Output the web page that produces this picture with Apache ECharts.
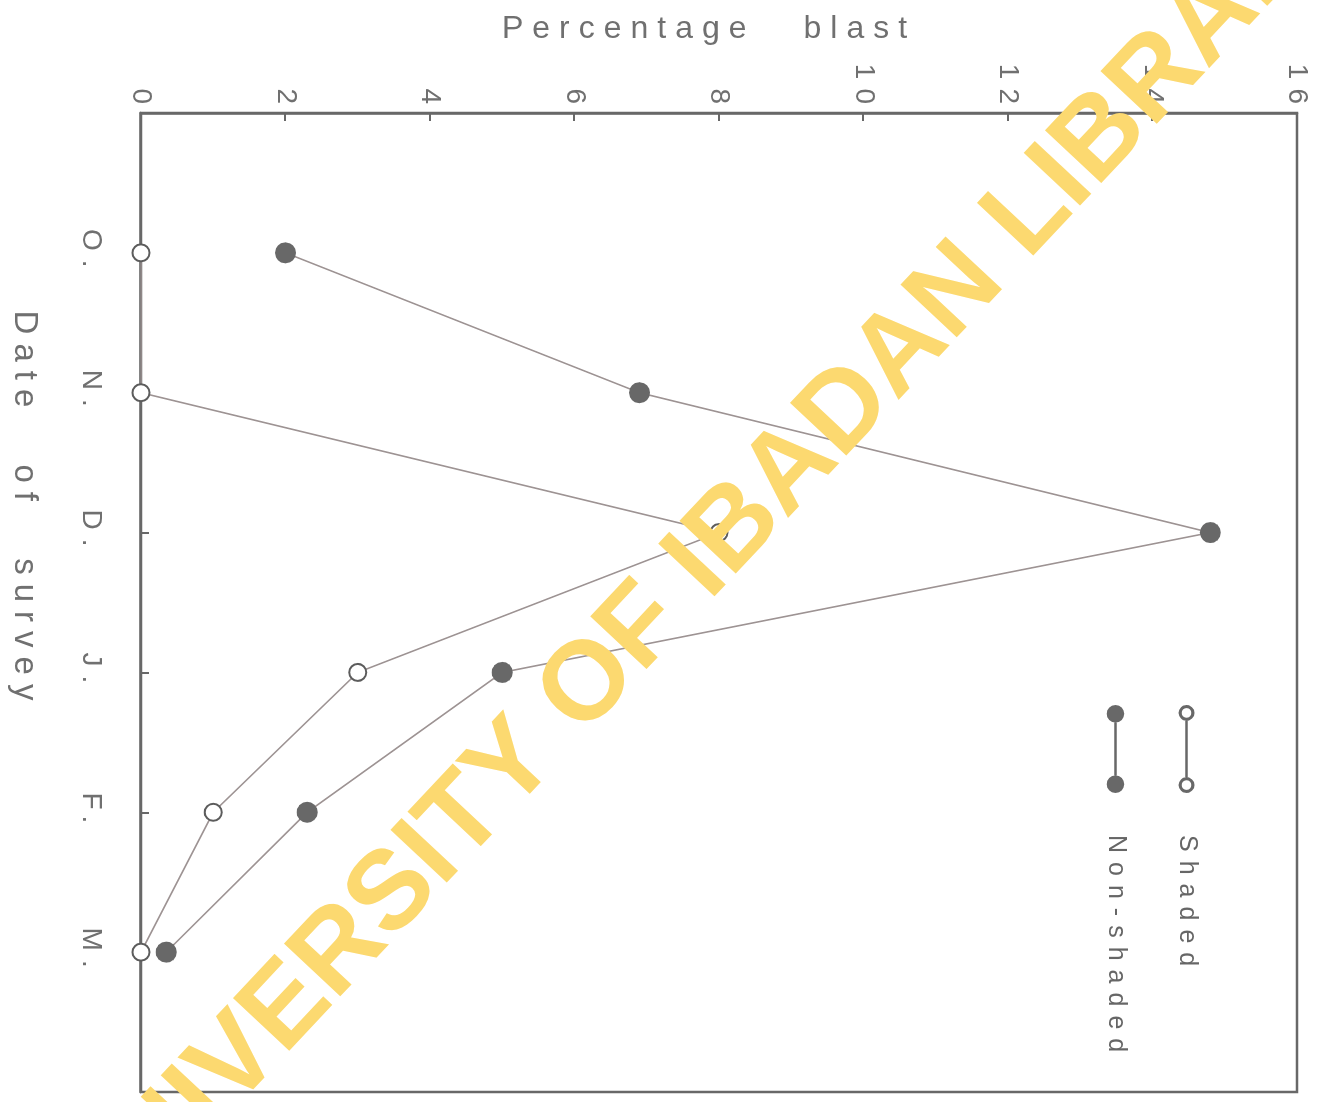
<!DOCTYPE html>
<html>
<head>
<meta charset="utf-8">
<title>Percentage blast by date of survey</title>
<script src="https://cdn.jsdelivr.net/npm/echarts@6/dist/echarts.min.js"></script>
<style>
  html, body { margin: 0; padding: 0; overflow: hidden; background: #ffffff; }
  /* The figure is laid out upright and turned a quarter turn clockwise on the page. */
  #main {
    position: absolute; left: 0; top: 0;
    width: 1102px; height: 1322px;
    transform-origin: 0 0;
    transform: translate(1322px, 0) rotate(90deg);
  }
</style>
</head>
<body>
<div id="main"></div>
<script>
// Survey months (October to March)
const categories = ['O.', 'N.', 'D.', 'J.', 'F.', 'M.'];
// Percentage blast per survey date
const shaded = [0, 0, 8.0, 3.0, 1.0, 0];
const nonShaded = [2.0, 6.9, 14.8, 5.0, 2.3, 0.35];
// Percentage axis range and step
const percentMin = 0;
const percentMax = 16;
const percentStep = 2;

const INK = '#686868';
const TEXT = '#707070';
const LINE = '#9d9393';

// Legend keys: "o—o" and "●—●"
const OPEN_KEY = 'path://M0,10A9,9 0 1,0 18,10A9,9 0 1,0 0,10Z' +
  'M3.5,10A5.5,5.5 0 1,1 14.5,10A5.5,5.5 0 1,1 3.5,10Z' +
  'M18,8.5L82,8.5L82,11.5L18,11.5Z' +
  'M82,10A9,9 0 1,0 100,10A9,9 0 1,0 82,10Z' +
  'M85.5,10A5.5,5.5 0 1,1 96.5,10A5.5,5.5 0 1,1 85.5,10Z';
const FILLED_KEY = 'path://M0,10A10,10 0 1,0 20,10A10,10 0 1,0 0,10Z' +
  'M20,8.5L80,8.5L80,11.5L20,11.5Z' +
  'M80,10A10,10 0 1,0 100,10A10,10 0 1,0 80,10Z';

const toPoints = values => categories.map((c, i) => [i + 1, values[i]]);

// Widely spaced lettering for the figure's own text; the large stamp keeps normal spacing
function spaced(draw) {
  return function () {
    const m = /(\d+(?:\.\d+)?)px/.exec(this.font);
    const large = m && +m[1] > 60;
    if ('letterSpacing' in this) { this.letterSpacing = large ? '0px' : '9px'; }
    if ('wordSpacing' in this) { this.wordSpacing = large ? '0px' : '30px'; }
    return draw.apply(this, arguments);
  };
}
CanvasRenderingContext2D.prototype.fillText = spaced(CanvasRenderingContext2D.prototype.fillText);
CanvasRenderingContext2D.prototype.strokeText = spaced(CanvasRenderingContext2D.prototype.strokeText);

const option = {
  backgroundColor: '#ffffff',
  animation: false,
  textStyle: { fontFamily: '"Liberation Sans", Arial, sans-serif', color: TEXT },
  grid: {
    left: 113, right: 10, top: 25, bottom: 141,
    show: true, borderColor: INK, borderWidth: 2.5, backgroundColor: 'transparent'
  },
  xAxis: {
    type: 'value',
    min: 0, max: categories.length + 1, interval: 1,
    name: 'Date of survey',
    nameLocation: 'middle',
    nameGap: 100,
    nameTextStyle: { fontSize: 33, color: TEXT, padding: [0, 185, 0, 0] },
    axisLine: { show: true, lineStyle: { color: INK, width: 2.5 } },
    axisTick: { show: true, inside: true, length: 8, lineStyle: { color: INK, width: 2 } },
    axisLabel: {
      margin: 36, fontSize: 28, color: TEXT,
      formatter: v => categories[v - 1] || ''
    },
    splitLine: { show: false }
  },
  yAxis: {
    type: 'value',
    min: percentMin, max: percentMax, interval: percentStep,
    name: 'Percentage blast',
    nameLocation: 'middle',
    nameGap: 68,
    nameTextStyle: { fontSize: 32, color: TEXT, padding: [0, 20, 0, 0] },
    axisLine: { show: true, lineStyle: { color: INK, width: 2.5 } },
    axisTick: { show: true, inside: true, length: 8, lineStyle: { color: INK, width: 2 } },
    axisLabel: { margin: 0, fontSize: 28, color: TEXT },
    splitLine: { show: false }
  },
  legend: {
    orient: 'vertical',
    left: 705, top: 123,
    padding: 0,
    itemGap: 46,
    itemWidth: 88, itemHeight: 18,
    textStyle: { fontSize: 25, color: '#666666', padding: [0, 0, 0, 37] },
    itemStyle: { borderWidth: 0 },
    data: [
      { name: 'Shaded', icon: OPEN_KEY, itemStyle: { color: INK, borderWidth: 0 } },
      { name: 'Non-shaded', icon: FILLED_KEY, itemStyle: { color: INK, borderWidth: 0 } }
    ]
  },
  series: [
    {
      name: 'Non-shaded',
      type: 'line',
      data: toPoints(nonShaded),
      symbol: 'circle',
      symbolSize: 21,
      itemStyle: { color: INK },
      lineStyle: { color: LINE, width: 1.6 },
      z: 3
    },
    {
      name: 'Shaded',
      type: 'line',
      data: toPoints(shaded),
      symbol: 'emptyCircle',
      symbolSize: 17,
      itemStyle: { color: '#5c5c5c', borderWidth: 3.5 },
      lineStyle: { color: LINE, width: 1.6 },
      z: 4
    }
  ],
  graphic: [
    {
      type: 'text',
      silent: true,
      z: 100,
      x: 555, y: 611,
      rotation: 136.9 * Math.PI / 180,
      style: {
        text: 'UNIVERSITY OF IBADAN LIBRARY',
        fontSize: 112,
        fontWeight: 'bold',
        fontFamily: '"Liberation Sans", Arial, sans-serif',
        fill: '#fcd970',
        blend: 'multiply',
        align: 'center',
        verticalAlign: 'middle'
      }
    }
  ]
};

const chart = echarts.init(document.getElementById('main'), null, { renderer: 'canvas' });
chart.setOption(option);
</script>
</body>
</html>
